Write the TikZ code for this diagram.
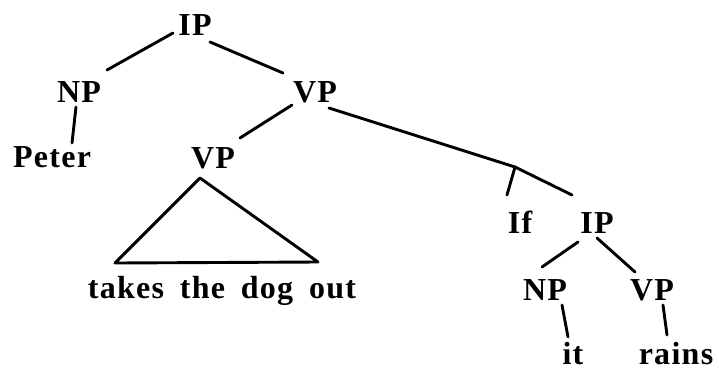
\documentclass[tikz,border=0pt]{standalone}
\usepackage{fontspec}
\setmainfont{Liberation Serif}[LetterSpace=4]
\newfontfamily\widesp{Liberation Serif}[LetterSpace=4,WordSpace=1.7]
\begin{document}
\begin{tikzpicture}[x=1pt,y=-1pt,
  lbl/.style={anchor=base,inner sep=0pt,font=\fontsize{32}{32}\selectfont\bfseries},
  edge/.style={line width=2.9pt,line cap=round}]
\useasboundingbox (0,0) rectangle (719,370);
% nodes
\node[lbl] (ip)    at (195,35)  {IP};
\node[lbl] (np)    at (79,102)  {NP};
\node[lbl] (peter) at (52,167)  {Peter};
\node[lbl] (vp)    at (315,102) {VP};
\node[lbl] (vpb)   at (213,168) {VP};
\node[lbl,font=\fontsize{32}{32}\selectfont\widesp\bfseries] (takes) at (222,298) {takes the dog out};
\node[lbl] (if)    at (520,233) {If};
\node[lbl] (ipb)   at (597,233) {IP};
\node[lbl] (npb)   at (545,300) {NP};
\node[lbl] (vpc)   at (652,300) {VP};
\node[lbl] (it)    at (573,364) {it};
\node[lbl] (rains) at (676,364) {rains};
\coordinate (br) at (515,167);
% connectors
\draw[edge] ([shift={(-22,-2)}]ip.base) -- ([shift={(28,-32)}]np.base);
\draw[edge] ([shift={(15,7)}]ip.base) -- ([shift={(-32,-29)}]vp.base);
\draw[edge] ([shift={(-3,5)}]np.base) -- ([shift={(20,-24)}]peter.base);
\draw[edge] ([shift={(-23,3)}]vp.base) -- ([shift={(27,-30)}]vpb.base);
\draw[edge] ([shift={(14,6)}]vp.base) -- (br);
\draw[edge] (br) -- ([shift={(-13,-38)}]if.base);
\draw[edge] (br) -- ([shift={(-25,-38)}]ipb.base);
\draw[edge] ([shift={(-19,9)}]ipb.base) -- ([shift={(-3,-33)}]npb.base);
\draw[edge] ([shift={(0,5)}]ipb.base) -- ([shift={(-17,-28)}]vpc.base);
\draw[edge] ([shift={(17,5)}]npb.base) -- ([shift={(-5,-27)}]it.base);
\draw[edge] ([shift={(11,5)}]vpc.base) -- ([shift={(-9,-29)}]rains.base);
% triangle
\draw[edge,line join=round] ([shift={(-13,10)}]vpb.base) -- ([shift={(-107,-35)}]takes.base)
  -- ([shift={(96,-36)}]takes.base) -- cycle;
\end{tikzpicture}
\end{document}
